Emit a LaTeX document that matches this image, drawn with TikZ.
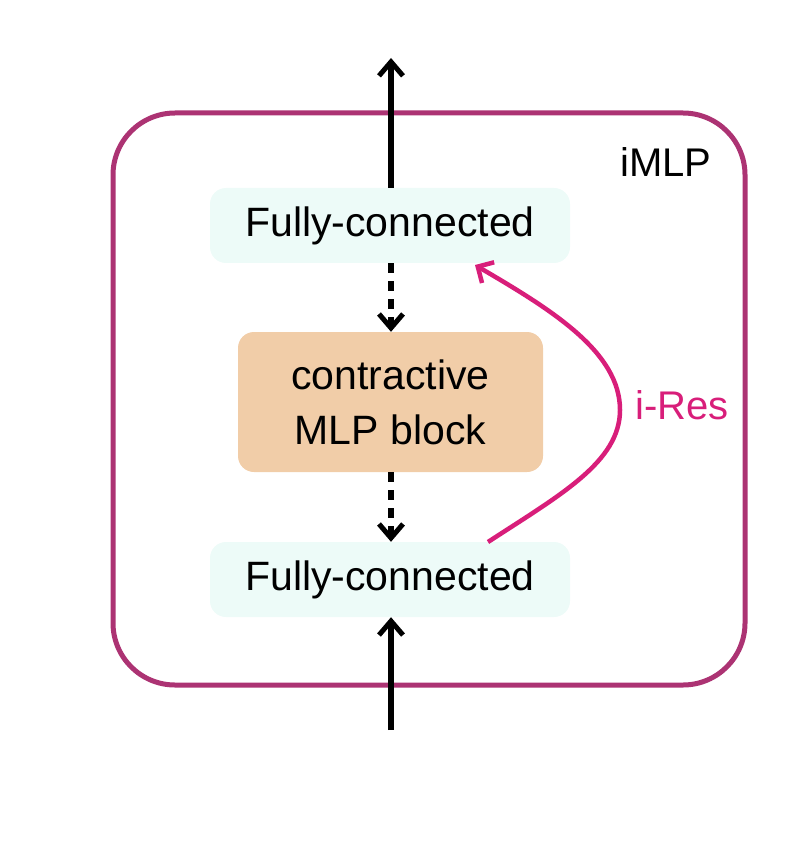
\documentclass[tikz,border=0pt]{standalone}
\usepackage{fontspec}
\setmainfont{Liberation Sans}
\usetikzlibrary{arrows.meta}
\definecolor{framec}{HTML}{AC3373}
\definecolor{resc}{HTML}{D81E7A}
\definecolor{fcfill}{HTML}{EDFBF8}
\definecolor{mlpfill}{HTML}{F1CDA8}
\tikzset{
  fcbox/.style={fill=fcfill, rounded corners=16pt, minimum width=360pt, minimum height=75pt, inner sep=0pt, font=\fontsize{41}{46}\selectfont},
  mlpbox/.style={fill=mlpfill, rounded corners=16pt, minimum width=305pt, minimum height=140pt, inner sep=0pt, align=center, font=\fontsize{41}{55}\selectfont},
  tip/.style={-{Straight Barb[length=14pt,width=24pt,line width=5pt]}},
  flow/.style={tip, line width=5.5pt, black},
  dflow/.style={tip, line width=5.5pt, black, dash pattern=on 10pt off 8pt},
  lbl/.style={font=\fontsize{40}{46}\selectfont, inner sep=0pt}
}
\begin{document}
\begin{tikzpicture}[x=1pt,y=-1pt]
\useasboundingbox (0,0) rectangle (808,858);
\draw[framec, line width=5pt, rounded corners=62pt] (113,113) rectangle (745,685);
\node[lbl] (imlp) at (666,162) {iMLP};
\node[fcbox] (fctop) at (390,225.5) {Fully-connected};
\node[mlpbox] (mlp) at (390.5,402) {contractive\\MLP block};
\node[fcbox] (fcbot) at (390,579.5) {Fully-connected};
\coordinate (outtop) at (391,58);
\coordinate (inbot) at (391,730);
\draw[flow] (fctop.north -| outtop) -- (outtop);
\draw[flow] (inbot) -- (fcbot.south -| inbot);
\draw[dflow] (fctop.south -| outtop) -- (mlp.north -| outtop);
\draw[dflow] (mlp.south -| outtop) -- (fcbot.north -| outtop);
\coordinate (rs) at (488,542);
\coordinate (rm) at (620,410);
\coordinate (re) at (475,265);
\draw[resc, line width=4.5pt, -{Straight Barb[length=12pt,width=24pt,line width=4.5pt]}] (rs) .. controls (560,495) and (620,462) .. (rm) .. controls (620,352) and (552,310) .. (re);
\node[lbl, text=resc] (ires) at (682,405) {i-Res};
\end{tikzpicture}
\end{document}
